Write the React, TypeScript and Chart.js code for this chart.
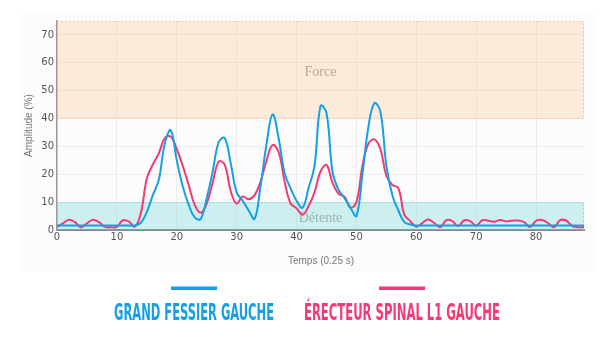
import React, { useEffect, useRef } from "react";
import { Chart, registerables } from "chart.js";

Chart.register(...registerables);

const timeSteps: number[] = Array.from({ length: 89 }, (_, i) => i);

const grandFessier: number[] = [
  1.6, 1.6, 1.6, 1.6, 1.6, 1.6, 1.6, 1.6, 1.6, 1.6, 1.6, 1.6, 1.6, 1.6,
  2.6, 6.5, 12.5, 18, 31, 35.8, 25, 15.6, 9, 4.5, 4, 11.5, 21, 31.5, 33, 24,
  13.5, 10.5, 7, 4, 16, 31, 41.5, 33, 20.5, 15, 10.5, 8, 15, 23, 44.5, 42,
  21, 14.5, 11.5, 8, 5, 20, 37, 45.5, 42.5, 23, 12.5, 7, 2.8, 2,
  1.6, 1.6, 1.6, 1.6, 1.6, 1.6, 1.6, 1.6, 1.6, 1.6, 1.6, 1.6, 1.6, 1.6, 1.6,
  1.6, 1.6, 1.6, 1.6, 1.6, 1.6, 1.6, 1.6, 1.6, 1.6, 1.6, 1.6, 1.6, 1.6,
];

const erecteurSpinal: number[] = [
  1, 2.4, 3.7, 2.8, 1, 2.4, 3.7, 2.8, 1.1, 1, 1.1, 3.5, 3, 1.2,
  6, 18.5, 23.5, 27.5, 33, 33.5, 29, 23, 16, 9, 6.2, 9.5, 17, 24.5, 23.5, 14,
  9.5, 12, 11, 12.5, 17.5, 25, 30.5, 28, 17.5, 9.5, 7.8, 5.5, 8.5, 13.5, 21, 23.3,
  17, 13, 12, 8, 10, 23, 31, 32.5, 29, 19.5, 16.2, 15, 5.5, 3.2,
  1.2, 2.5, 3.8, 2.5, 1, 3.5, 3.2, 1.4, 3.5, 3.2, 1.5, 3.5, 3.3, 3, 3.6,
  3.1, 3.3, 3.4, 2.8, 1.1, 3.3, 3.6, 2.5, 1, 3.5, 3.4, 1.5, 1, 1,
];

const seriesNames = ["GRAND FESSIER GAUCHE", "ÉRECTEUR SPINAL L1 GAUCHE"];
const seriesColors = ["#14a0e3", "#f23a74"];

const zoneForce = { from: 40, to: 75, label: "Force" };
const zoneDetente = { from: 0, to: 10, label: "Détente" };

const xTitle = "Temps (0.25 s)";
const yTitle = "Amplitude (%)";

const zonesPlugin = {
  id: "zones",
  beforeDraw(chart: any) {
    const ctx = chart.ctx;
    ctx.save();
    ctx.fillStyle = "#fcfcfc";
    ctx.fillRect(20, 14, 575, 258);
    ctx.restore();
  },
  beforeDatasetsDraw(chart: any) {
    const { ctx, chartArea, scales } = chart;
    const ys = scales.y;
    const l = chartArea.left;
    const r = chartArea.right;
    const drawZone = (z: any, fill: string, stroke: string, textColor: string, labelVal: number) => {
      const top = ys.getPixelForValue(z.to);
      const bot = ys.getPixelForValue(z.from);
      ctx.save();
      ctx.fillStyle = fill;
      ctx.fillRect(l, top, r - l, bot - top);
      ctx.strokeStyle = stroke;
      ctx.lineWidth = 1;
      ctx.setLineDash([2, 2]);
      ctx.beginPath();
      ctx.moveTo(l, top + 0.5);
      ctx.lineTo(r - 0.5, top + 0.5);
      ctx.lineTo(r - 0.5, bot);
      if (z.from > 0) {
        ctx.lineTo(l, bot - 0.5);
      }
      ctx.stroke();
      ctx.setLineDash([]);
      ctx.fillStyle = textColor;
      ctx.font = '14px "Liberation Serif", "DejaVu Serif", serif';
      ctx.textAlign = "center";
      ctx.textBaseline = "middle";
      ctx.fillText(z.label, (l + r) / 2, ys.getPixelForValue(labelVal));
      ctx.restore();
    };
    drawZone(zoneForce, "rgba(250, 190, 130, 0.28)", "#f9c995", "#b5a898", 56.5);
    drawZone(zoneDetente, "rgba(100, 210, 210, 0.3)", "#8fdcdc", "#9db3b3", 4.3);
  },
  afterDraw(chart: any) {
    const { ctx, chartArea } = chart;
    ctx.save();
    ctx.fillStyle = "#777";
    ctx.font = '10px "Liberation Sans Narrow", "Liberation Sans", sans-serif';
    ctx.textAlign = "center";
    ctx.textBaseline = "middle";
    ctx.fillText(xTitle, 321, 261);
    ctx.translate(29, (chartArea.top + chartArea.bottom) / 2);
    ctx.rotate(-Math.PI / 2);
    ctx.fillText(yTitle, 0, 0);
    ctx.restore();

    const legend = [
      { cx: 194, w: 160 },
      { cx: 402, w: 196 },
    ];
    legend.forEach((it, i) => {
      ctx.save();
      ctx.fillStyle = seriesColors[i];
      ctx.fillRect(it.cx - 23, 286.5, 46, 3.5);
      ctx.font = 'bold 23px "DejaVu Sans Condensed", "Liberation Sans Narrow", sans-serif';
      const m = ctx.measureText(seriesNames[i]).width;
      ctx.translate(it.cx, 320);
      ctx.scale(it.w / m, 1);
      ctx.textAlign = "center";
      ctx.textBaseline = "alphabetic";
      ctx.fillText(seriesNames[i], 0, 0);
      ctx.restore();
    });
  },
};

export default function App() {
  const ref = useRef<HTMLCanvasElement | null>(null);
  useEffect(() => {
    if (!ref.current) return;
    const chart = new Chart(ref.current, {
      type: "line",
      data: {
        labels: timeSteps,
        datasets: [
          {
            label: seriesNames[0],
            data: grandFessier,
            borderColor: seriesColors[0],
            borderWidth: 2,
            pointRadius: 0,
            tension: 0.4,
            fill: false,
          },
          {
            label: seriesNames[1],
            data: erecteurSpinal,
            borderColor: seriesColors[1],
            borderWidth: 2,
            pointRadius: 0,
            tension: 0.4,
            fill: false,
          },
        ],
      },
      options: {
        animation: false,
        responsive: false,
        devicePixelRatio: 1,
        layout: { padding: { top: 21, right: 30, bottom: 95, left: 0 } },
        plugins: { legend: { display: false }, tooltip: { enabled: false } },
        scales: {
          x: {
            type: "linear",
            min: 0,
            max: 88,
            afterFit: (s: any) => { s.height = 20; },
            ticks: {
              stepSize: 10,
              includeBounds: false,
              color: "#555",
              font: { family: "DejaVu Sans", size: 10 },
              padding: 1,
              maxRotation: 0,
            },
            grid: { color: "#ececec", drawTicks: false },
            border: { color: "#7f8e8e", width: 2 },
          },
          y: {
            min: 0,
            max: 75,
            afterFit: (s: any) => { s.width = 57; },
            ticks: {
              stepSize: 10,
              includeBounds: false,
              color: "#555",
              font: { family: "DejaVu Sans", size: 10 },
              padding: 3,
            },
            grid: { color: "#ececec", drawTicks: false },
            border: { color: "#9a9a9a", width: 1.5 },
          },
        },
      },
      plugins: [zonesPlugin],
    });
    return () => chart.destroy();
  }, []);
  return (
    <div style={{ position: "fixed", left: 0, top: 0, width: 614, height: 345, background: "#fff" }}>
      <canvas ref={ref} width={614} height={345} style={{ display: "block" }} />
    </div>
  );
}
